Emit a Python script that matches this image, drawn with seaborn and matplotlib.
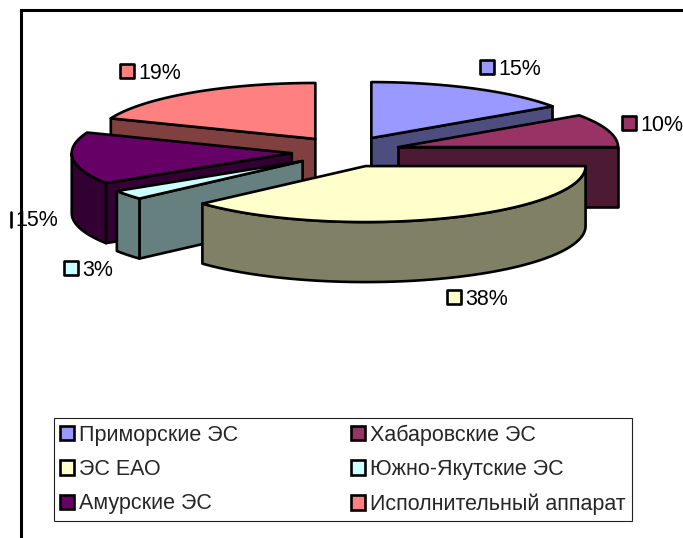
import matplotlib
matplotlib.use('Agg')
import matplotlib.pyplot as plt
from matplotlib.patches import Polygon, Patch
import numpy as np
import seaborn as sns

# Data
regions = ['Приморские ЭС', 'Хабаровские ЭС', 'ЭС ЕАО', 'Южно-Якутские ЭС', 'Амурские ЭС', 'Исполнительный аппарат']
shares = [15.4, 9.6, 38.3, 2.7, 15.0, 19.0]
top_colors = ['#9999FF', '#993366', '#FFFFCC', '#CCFFFF', '#660066', '#FF8080']
side_colors = ['#4D4D80', '#4D1A33', '#808066', '#668080', '#330033', '#804040']

# Pie geometry in pixels of the figure
CENTER = (346, 151.7)
RX, RY = 220, 56
DEPTH = 60
EXPLODE_X, EXPLODE_Y = 54.5, 15.4
LW = 1.9
FONT = 15.5
# back to front, so that nearer slices cover the walls behind them
DRAW_ORDER = [5, 0, 4, 1, 3, 2]

sns.set_theme(style='white')
plt.rcParams['font.family'] = ['Liberation Sans', 'DejaVu Sans']

W, H = 683, 538
fig = plt.figure(figsize=(W / 100, H / 100), dpi=100)
ax = fig.add_axes([21 / W, 0, (W - 21) / W, (H - 10) / H])
ax.set_xlim(21, W)
ax.set_ylim(H, 10)
ax.set_xticks([])
ax.set_yticks([])
sns.despine(ax=ax, top=False, left=False, right=True, bottom=True)
for side in ['top', 'left']:
    ax.spines[side].set_color('black')
    ax.spines[side].set_linewidth(2.2)


def rim(apex, a0, a1, drop=0):
    t = np.radians(np.linspace(a0, a1, max(int(abs(a1 - a0)), 2)))
    return np.column_stack([apex[0] + RX * np.sin(t), apex[1] - RY * np.cos(t) + drop])


def add_poly(points, color):
    ax.add_patch(Polygon(points, closed=True, facecolor=color, edgecolor='black',
                         linewidth=LW, joinstyle='round', clip_on=False))


def radial_wall(apex, angle, color):
    edge = rim(apex, angle, angle)[0]
    add_poly([apex, edge, (edge[0], edge[1] + DEPTH), (apex[0], apex[1] + DEPTH)], color)


stops = np.cumsum([0] + shares) * 3.6
for i in DRAW_ORDER:
    a0, a1 = stops[i], stops[i + 1]
    mid = np.radians((a0 + a1) / 2)
    apex = (CENTER[0] + EXPLODE_X * np.sin(mid), CENTER[1] - EXPLODE_Y * np.cos(mid))
    # cut faces that turn towards the viewer
    if 180 <= a0 < 360:
        radial_wall(apex, a0, side_colors[i])
    if 0 < a1 <= 180:
        radial_wall(apex, a1, side_colors[i])
    # outer wall, only its front half shows
    w0, w1 = max(a0, 90), min(a1, 270)
    if w1 > w0:
        add_poly(np.vstack([rim(apex, w0, w1), rim(apex, w1, w0, DEPTH)]), side_colors[i])
    add_poly(np.vstack([[apex], rim(apex, a0, a1)]), top_colors[i])

# Data labels with their small colour keys: x of key, y of text middle
label_pos = [(480, 67), (622, 123), (447, 297), (64, 268), (-2, 218), (120, 71)]
KEY = 14
for i, (x, y) in enumerate(label_pos):
    text_x = x + KEY + 4 if x > 0 else x + KEY + 3
    ax.text(text_x, y, f'{shares[i]:.0f}%', fontsize=FONT, color='black',
            va='center_baseline', ha='left', clip_on=False)
    if x > 0:
        add_poly([(x, y - KEY / 2), (x + KEY, y - KEY / 2), (x + KEY, y + KEY / 2), (x, y + KEY / 2)],
                 top_colors[i])
    else:
        # key of this label is cut off by the image, only its right edge is left
        fig.add_artist(plt.Line2D([10.5 / W, 10.5 / W], [1 - 212 / H, 1 - 227 / H], color='black', linewidth=LW))

# Legend, filled by columns so that it reads row by row as in the source
handles = [Patch(facecolor=c, edgecolor='black', linewidth=LW) for c in top_colors]
order = [0, 2, 4, 1, 3, 5]
leg = ax.legend([handles[i] for i in order], [regions[i] for i in order], ncol=2,
                loc='upper left', bbox_to_anchor=(54, 418, 578, 101), bbox_transform=ax.transData,
                mode='expand', borderaxespad=0, fontsize=FONT, frameon=True, fancybox=False,
                framealpha=1, edgecolor='#222222', handlelength=0.65, handleheight=0.65,
                handletextpad=0.23, labelspacing=0.62, borderpad=0.3, columnspacing=0.5)
leg.get_frame().set_linewidth(0.8)

fig.savefig('out.png', dpi=100)
